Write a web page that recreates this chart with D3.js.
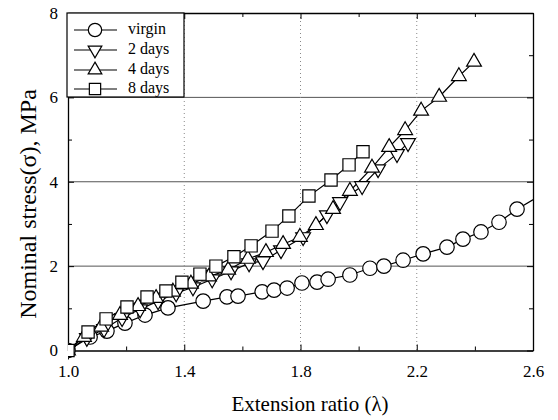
<!DOCTYPE html>
<html><head><meta charset="utf-8">
<script src="https://cdn.jsdelivr.net/npm/d3@7"></script>
<style>body{margin:0;background:#fff}svg{display:block}</style>
</head><body>
<svg id="c" width="558" height="420"></svg>
<script>
const xTicks = [1.0, 1.4, 1.8, 2.2, 2.6];
const xMinor = [1.2, 1.6, 2.0, 2.4];
const yTicks = [0, 2, 4, 6, 8];
const yMinor = [1, 3, 5, 7];
const seriesNames = ["virgin", "2 days", "4 days", "8 days"];

const virginX = [1.0,1.076,1.134,1.196,1.265,1.344,1.465,1.547,1.585,1.668,1.709,1.754,1.805,1.857,1.895,1.970,2.039,2.087,2.153,2.222,2.304,2.359,2.421,2.483,2.545,2.66];
const virginY = [0.0,0.32,0.46,0.65,0.84,1.01,1.17,1.27,1.29,1.39,1.43,1.48,1.60,1.62,1.69,1.79,1.95,2.00,2.14,2.29,2.45,2.64,2.81,3.04,3.35,3.82];

const day2X = [1.0,1.065,1.124,1.186,1.248,1.310,1.372,1.430,1.496,1.561,1.623,1.671,1.733,1.809,1.891,1.936,2.012,2.067,2.132,2.170];
const day2Y = [0.0,0.30,0.51,0.77,0.98,1.17,1.36,1.50,1.69,1.88,2.07,2.12,2.38,2.69,3.21,3.52,3.90,4.30,4.66,4.92];

const day4X = [1.0,1.055,1.114,1.179,1.241,1.303,1.361,1.423,1.485,1.551,1.619,1.681,1.740,1.798,1.853,1.912,1.970,2.046,2.105,2.160,2.215,2.277,2.345,2.397];
const day4Y = [0.0,0.32,0.56,0.84,1.05,1.24,1.39,1.58,1.75,1.91,2.17,2.33,2.52,2.69,2.97,3.35,3.78,4.33,4.82,5.22,5.68,6.01,6.50,6.84];

const day8X = [1.0,1.069,1.131,1.203,1.272,1.337,1.392,1.454,1.509,1.571,1.630,1.702,1.760,1.829,1.905,1.967,2.015];
const day8Y = [0.0,0.44,0.75,1.03,1.27,1.41,1.62,1.81,2.00,2.22,2.48,2.83,3.19,3.66,4.04,4.40,4.71];

const L = 68, R = 533, T = 13, B = 350.5;
const svg = d3.select("#c");
const x = d3.scaleLinear().domain([1.0, 2.6]).range([L, R]);
const y = d3.scaleLinear().domain([0, 8]).range([B, T]);
const font = "'Liberation Serif','Times New Roman',serif";

// grid
svg.append("g").selectAll("line").data([2,4,6]).join("line")
  .attr("x1", L).attr("x2", R).attr("y1", d => y(d)).attr("y2", d => y(d))
  .attr("stroke", "#555").attr("stroke-width", 1);
svg.append("g").selectAll("line").data([1.4,1.8,2.2]).join("line")
  .attr("y1", T).attr("y2", B).attr("x1", d => x(d)).attr("x2", d => x(d))
  .attr("stroke", "#888").attr("stroke-width", 1).attr("stroke-dasharray", "1,3");

// axes
const ax = svg.append("g").attr("font-family", font);
ax.append("g").attr("transform", `translate(0,${B})`)
  .call(d3.axisBottom(x).tickValues(xTicks).tickFormat(d3.format(".1f")).tickSizeInner(-6).tickSizeOuter(0).tickPadding(14));
ax.append("g").attr("transform", `translate(0,${T})`)
  .call(d3.axisTop(x).tickValues(xTicks).tickFormat("").tickSizeInner(-6).tickSizeOuter(0));
ax.append("g").attr("transform", `translate(${L},0)`)
  .call(d3.axisLeft(y).tickValues(yTicks).tickFormat(d3.format("d")).tickSizeInner(-6).tickSizeOuter(0).tickPadding(10));
ax.append("g").attr("transform", `translate(${R},0)`)
  .call(d3.axisRight(y).tickValues(yTicks).tickFormat("").tickSizeInner(-6).tickSizeOuter(0));
ax.append("g").attr("transform", `translate(0,${B})`).call(d3.axisBottom(x).tickValues(xMinor).tickFormat("").tickSizeInner(-4).tickSizeOuter(0)).select(".domain").remove();
ax.append("g").attr("transform", `translate(0,${T})`).call(d3.axisTop(x).tickValues(xMinor).tickFormat("").tickSizeInner(-4).tickSizeOuter(0)).select(".domain").remove();
ax.append("g").attr("transform", `translate(${L},0)`).call(d3.axisLeft(y).tickValues(yMinor).tickFormat("").tickSizeInner(-4).tickSizeOuter(0)).select(".domain").remove();
ax.append("g").attr("transform", `translate(${R},0)`).call(d3.axisRight(y).tickValues(yMinor).tickFormat("").tickSizeInner(-4).tickSizeOuter(0)).select(".domain").remove();
ax.selectAll("path.domain").attr("stroke", "#000").attr("stroke-width", 1.3);
ax.selectAll(".tick line").attr("stroke", "#000");
ax.selectAll(".tick text").attr("font-family", font).attr("font-size", 17).attr("fill", "#000");

// clip
svg.append("clipPath").attr("id", "clip").append("rect")
  .attr("x", L).attr("y", T - 10).attr("width", R - L).attr("height", B - T + 20);

const data = [
  {name: seriesNames[0], xs: virginX, ys: virginY, sym: d3.symbolCircle, size: 165},
  {name: seriesNames[1], xs: day2X, ys: day2Y, sym: d3.symbolTriangle, size: 95, flip: true},
  {name: seriesNames[2], xs: day4X, ys: day4Y, sym: d3.symbolTriangle, size: 95},
  {name: seriesNames[3], xs: day8X, ys: day8Y, sym: d3.symbolSquare, size: 150}
];

const plot = svg.append("g").attr("clip-path", "url(#clip)");
const line = d3.line().x(d => x(d[0])).y(d => y(d[1]));
data.forEach(s => {
  const pts = s.xs.map((v, i) => [v, s.ys[i]]);
  plot.append("path").datum(pts).attr("d", line)
    .attr("fill", "none").attr("stroke", "#000").attr("stroke-width", 1.2);
});
data.forEach(s => {
  const pts = s.xs.map((v, i) => [v, s.ys[i]]);
  plot.append("g").selectAll("path").data(pts).join("path")
    .attr("d", d3.symbol().type(s.sym).size(s.size))
    .attr("transform", d => `translate(${x(d[0])},${y(d[1])})${s.flip ? " rotate(180)" : ""}`)
    .attr("fill", "#fff").attr("stroke", "#000").attr("stroke-width", 1.2);
});

// legend
const lg = svg.append("g");
lg.append("rect").attr("x", L - 1).attr("y", T).attr("width", 117).attr("height", 84)
  .attr("fill", "#fff").attr("stroke", "#000").attr("stroke-width", 1.2);
const baseY = [34, 54, 74, 93];
data.forEach((s, i) => {
  const yy = baseY[i] - 4;
  lg.append("line").attr("x1", 74).attr("x2", 117).attr("y1", yy).attr("y2", yy)
    .attr("stroke", "#000").attr("stroke-width", 1.2);
  lg.append("path").attr("d", d3.symbol().type(s.sym).size(s.size * 0.85))
    .attr("transform", `translate(95,${yy})${s.flip ? " rotate(180)" : ""}`)
    .attr("fill", "#fff").attr("stroke", "#000").attr("stroke-width", 1.2);
  lg.append("text").attr("x", 128).attr("y", baseY[i]).text(s.name)
    .attr("font-family", font).attr("font-size", 16).attr("fill", "#000");
});

// titles
svg.append("text").attr("x", 310).attr("y", 411).attr("text-anchor", "middle")
  .attr("font-family", font).attr("font-size", 21).text("Extension ratio (λ)");
svg.append("text").attr("transform", `translate(36,204) rotate(-90)`).attr("text-anchor", "middle")
  .attr("font-family", font).attr("font-size", 24).text("Nominal stress(σ), MPa");
</script>
</body></html>
